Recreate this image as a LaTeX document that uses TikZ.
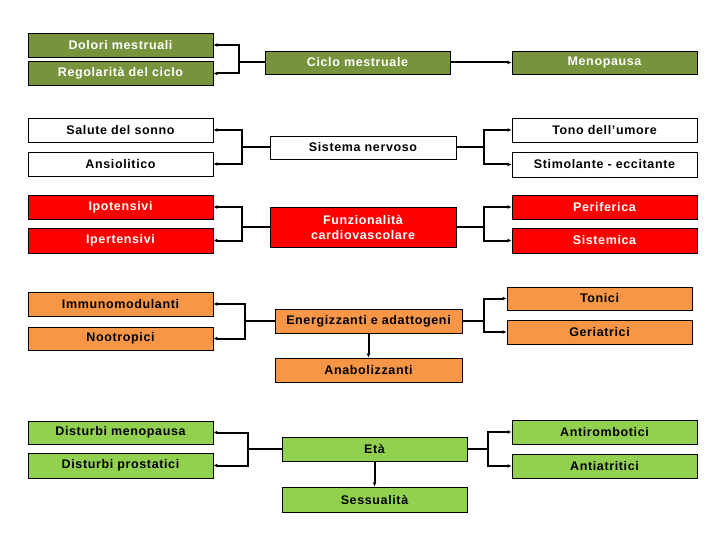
\documentclass[tikz,border=0pt]{standalone}
\usepackage{fontspec}
\setmainfont{Liberation Sans}[LetterSpace=5]
\usetikzlibrary{arrows.meta}
\definecolor{olive}{HTML}{77933C}
\definecolor{redbox}{HTML}{FF0000}
\definecolor{orangebox}{HTML}{F79646}
\definecolor{lgreen}{HTML}{92D050}
\begin{document}
\begin{tikzpicture}[x=1pt,y=-1pt,
  box/.style={draw=black,line width=0.9pt,rectangle,minimum width=185pt,minimum height=24pt,inner sep=1pt,
     font=\fontsize{12.5}{15}\selectfont\bfseries,align=center},
  ol/.style={box,fill=olive,text=white},
  rd/.style={box,fill=redbox,text=white},
  og/.style={box,fill=orangebox,text=black},
  lg/.style={box,fill=lgreen,text=black},
  wh/.style={box,fill=white,text=black},
  arr/.style={line width=2pt,line join=miter,-{Latex[length=4pt,width=4pt]}}]
\useasboundingbox (0,0) rectangle (720,540);
\fill[white] (0,0) rectangle (720,540);
% left column
\node[ol] (dolori) at (120.5,45) {Dolori mestruali};
\node[ol] (regol) at (120.5,73.5) {Regolarità del ciclo};
\node[wh] (salute) at (120.5,130) {Salute del sonno};
\node[wh] (ansio) at (120.5,164) {Ansiolitico};
\node[rd] (ipot) at (120.5,207) {Ipotensivi};
\node[rd,minimum height=25pt] (iper) at (120.5,240.5) {Ipertensivi};
\node[og] (immuno) at (120.5,304) {Immunomodulanti};
\node[og,minimum height=23pt] (nootr) at (120.5,338.5) {Nootropici};
\node[lg,minimum height=23pt] (dmeno) at (120.5,432.5) {Disturbi menopausa};
\node[lg,minimum height=25pt] (dprost) at (120.5,465.5) {Disturbi prostatici};
% middle column
\node[ol,minimum height=23pt] (ciclo) at (357.5,62.5) {Ciclo mestruale};
\node[wh,minimum height=23pt,minimum width=186pt] (sist) at (363,147.5) {Sistema nervoso};
\node[rd,minimum height=40pt,minimum width=186pt] (funz) at (363,227) {Funzionalità\\cardiovascolare};
\node[og,minimum width=187pt] (energ) at (368.5,321) {Energizzanti e adattogeni};
\node[og,minimum width=187pt] (anab) at (368.5,370) {Anabolizzanti};
\node[lg] (eta) at (374.5,449) {Età};
\node[lg,minimum height=25pt] (sess) at (374.5,499.5) {Sessualità};
% right column
\node[ol,minimum height=23pt] (meno) at (604.5,62.5) {Menopausa};
\node[wh] (tono) at (604.5,130) {Tono dell’umore};
\node[wh,minimum height=25pt] (stim) at (604.5,164.5) {Stimolante - eccitante};
\node[rd] (perif) at (604.5,207) {Periferica};
\node[rd,minimum height=25pt] (sistem) at (604.5,240.5) {Sistemica};
\node[og,minimum height=23pt] (tonici) at (599.5,298.5) {Tonici};
\node[og] (geri) at (599.5,332) {Geriatrici};
\node[lg] (antir) at (604.5,432) {Antirombotici};
\node[lg] (antia) at (604.5,466) {Antiatritici};
% connectors
\draw[arr] (ciclo.west) -- ++(-26,0) |- (dolori.east);
\draw[arr] (ciclo.west) -- ++(-26,0) |- (regol.east);
\draw[arr] (ciclo.east) -- (meno.west);
\draw[arr] (sist.west) -- ++(-28,0) |- (salute.east);
\draw[arr] (sist.west) -- ++(-28,0) |- (ansio.east);
\draw[arr] (sist.east) -- ++(28,0) |- (tono.west);
\draw[arr] (sist.east) -- ++(28,0) |- (stim.west);
\draw[arr] (funz.west) -- ++(-28,0) |- (ipot.east);
\draw[arr] (funz.west) -- ++(-28,0) |- (iper.east);
\draw[arr] (funz.east) -- ++(28,0) |- (perif.west);
\draw[arr] (funz.east) -- ++(28,0) |- (sistem.west);
\draw[arr] (energ.west) -- ++(-30,0) |- (immuno.east);
\draw[arr] (energ.west) -- ++(-30,0) |- (nootr.east);
\draw[arr] (energ.east) -- ++(22,0) |- (tonici.west);
\draw[arr] (energ.east) -- ++(22,0) |- (geri.west);
\draw[arr] (energ.south) -- (anab.north);
\draw[arr] (eta.west) -- ++(-34,0) |- (dmeno.east);
\draw[arr] (eta.west) -- ++(-34,0) |- (dprost.east);
\draw[arr] (eta.east) -- ++(21,0) |- (antir.west);
\draw[arr] (eta.east) -- ++(21,0) |- (antia.west);
\draw[arr] (eta.south) -- (sess.north);
\end{tikzpicture}
\end{document}
